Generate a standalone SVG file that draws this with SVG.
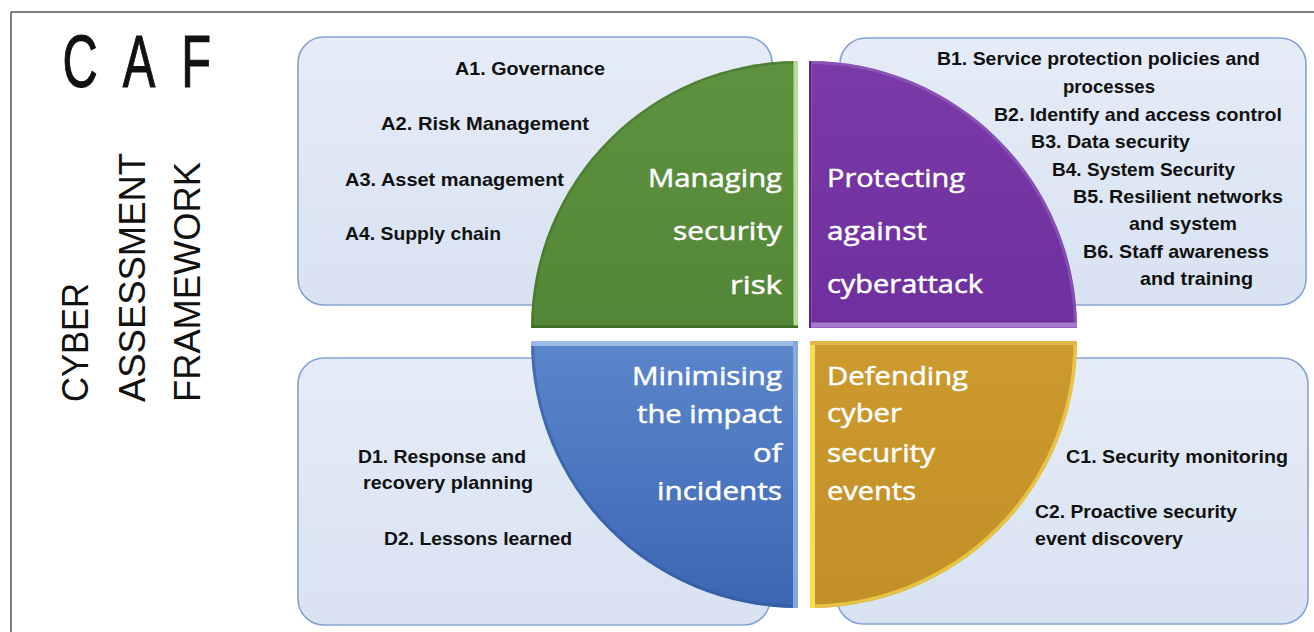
<svg xmlns="http://www.w3.org/2000/svg" width="1314" height="632" viewBox="0 0 1314 632">
  <defs>
    <linearGradient id="boxFill" x1="0" y1="0" x2="0" y2="1">
      <stop offset="0" stop-color="#e5ecf7"/>
      <stop offset="1" stop-color="#d8e2f1"/>
    </linearGradient>
    <linearGradient id="greenFill" x1="0" y1="0" x2="0" y2="1">
      <stop offset="0" stop-color="#5e9240"/>
      <stop offset="1" stop-color="#538636"/>
    </linearGradient>
    <linearGradient id="purpleFill" x1="0" y1="0" x2="0" y2="1">
      <stop offset="0" stop-color="#7a3aa8"/>
      <stop offset="1" stop-color="#6e309e"/>
    </linearGradient>
    <linearGradient id="blueFill" x1="0" y1="0" x2="0" y2="1">
      <stop offset="0" stop-color="#5c86ca"/>
      <stop offset="1" stop-color="#3c66b4"/>
    </linearGradient>
    <linearGradient id="goldFill" x1="0" y1="0" x2="0" y2="1">
      <stop offset="0" stop-color="#cc9a2e"/>
      <stop offset="1" stop-color="#c38f28"/>
    </linearGradient>
    <clipPath id="clipGreen"><path d="M798,328 L531,328 A267,267 0 0 1 798,61 Z"/></clipPath>
    <clipPath id="clipPurple"><path d="M809,328 L809,61 A268,268 0 0 1 1077,328 Z"/></clipPath>
    <clipPath id="clipBlue"><path d="M798,341 L798,608 A267,267 0 0 1 531,341 Z"/></clipPath>
    <clipPath id="clipGold"><path d="M810,341 L1077,341 A267,267 0 0 1 810,608 Z"/></clipPath>
  </defs>
  <style>
    .box { fill: url(#boxFill); stroke: #86a2d2; stroke-width: 1.6; }
    .item { font-family: "Liberation Sans", Arial, sans-serif; font-weight: bold; font-size: 18.5px; fill: #111; }
    .label { font-family: "Open Sans", "Liberation Sans", sans-serif; font-size: 26px; fill: #ffffff; stroke: #ffffff; stroke-width: 0.5; }
    .title { font-family: "Liberation Sans", Arial, sans-serif; fill: #111; }
  </style>

  <rect width="1314" height="632" fill="#ffffff"/>

  <!-- page frame: top and left rules -->
  <g id="frame" stroke="#555" stroke-width="1.5" fill="none">
    <line x1="11" y1="12" x2="1314" y2="12"/>
    <line x1="11" y1="12" x2="11" y2="632"/>
  </g>

  <!-- heading -->
  <g id="title" class="title">
    <text transform="scale(0.65,1)" font-size="75" stroke="#111" stroke-width="1.2">
      <tspan x="96" y="87">C</tspan><tspan x="189" y="87">A</tspan><tspan x="279" y="87">F</tspan>
    </text>
    <text transform="translate(88,402) rotate(-90)" font-size="37" textLength="119" lengthAdjust="spacingAndGlyphs">CYBER</text>
    <text transform="translate(145,402) rotate(-90)" font-size="37" textLength="249" lengthAdjust="spacingAndGlyphs">ASSESSMENT</text>
    <text transform="translate(200,402) rotate(-90)" font-size="37" textLength="240" lengthAdjust="spacingAndGlyphs">FRAMEWORK</text>
  </g>

  <!-- A: managing security risk -->
  <g id="panel-a">
    <rect class="box" x="298" y="37" width="474" height="268" rx="26"/>
    <text class="item" x="455" y="75" textLength="150" lengthAdjust="spacingAndGlyphs">A1. Governance</text>
    <text class="item" x="381" y="130" textLength="208" lengthAdjust="spacingAndGlyphs">A2. Risk Management</text>
    <text class="item" x="345" y="186" textLength="219" lengthAdjust="spacingAndGlyphs">A3. Asset management</text>
    <text class="item" x="345" y="240" textLength="156" lengthAdjust="spacingAndGlyphs">A4. Supply chain</text>
  </g>

  <!-- B: protecting against cyberattack -->
  <g id="panel-b">
    <rect class="box" x="840" y="38" width="466" height="267" rx="26"/>
    <text class="item" x="937" y="65" textLength="323" lengthAdjust="spacingAndGlyphs">B1. Service protection policies and</text>
    <text class="item" x="1063" y="93" textLength="92" lengthAdjust="spacingAndGlyphs">processes</text>
    <text class="item" x="994" y="121" textLength="288" lengthAdjust="spacingAndGlyphs">B2. Identify and access control</text>
    <text class="item" x="1031" y="148" textLength="159" lengthAdjust="spacingAndGlyphs">B3. Data security</text>
    <text class="item" x="1052" y="176" textLength="183" lengthAdjust="spacingAndGlyphs">B4. System Security</text>
    <text class="item" x="1073" y="203" textLength="210" lengthAdjust="spacingAndGlyphs">B5. Resilient networks</text>
    <text class="item" x="1129" y="230" textLength="108" lengthAdjust="spacingAndGlyphs">and system</text>
    <text class="item" x="1083" y="258" textLength="186" lengthAdjust="spacingAndGlyphs">B6. Staff awareness</text>
    <text class="item" x="1140" y="285" textLength="113" lengthAdjust="spacingAndGlyphs">and training</text>
  </g>

  <!-- D: minimising the impact of incidents -->
  <g id="panel-d">
    <rect class="box" x="298" y="358" width="472" height="267" rx="26"/>
    <text class="item" x="358" y="463" textLength="168" lengthAdjust="spacingAndGlyphs">D1. Response and</text>
    <text class="item" x="363" y="489" textLength="170" lengthAdjust="spacingAndGlyphs">recovery planning</text>
    <text class="item" x="384" y="545" textLength="188" lengthAdjust="spacingAndGlyphs">D2.  Lessons learned</text>
  </g>

  <!-- C: defending cyber security events -->
  <g id="panel-c">
    <rect class="box" x="837" y="358" width="471" height="266" rx="26"/>
    <text class="item" x="1066" y="463" textLength="222" lengthAdjust="spacingAndGlyphs">C1. Security monitoring</text>
    <text class="item" x="1035" y="518" textLength="202" lengthAdjust="spacingAndGlyphs">C2. Proactive security</text>
    <text class="item" x="1035" y="545" textLength="148" lengthAdjust="spacingAndGlyphs">event discovery</text>
  </g>

  <!-- quarter-circle objectives with bevelled edges -->
  <g id="quadrant-a">
    <path d="M798,328 L531,328 A267,267 0 0 1 798,61 Z" fill="url(#greenFill)"/>
    <g clip-path="url(#clipGreen)" fill="none">
      <path d="M798,328 L531,328 A267,267 0 0 1 798,61 Z" stroke="#3f6c27" stroke-width="5" opacity="0.45"/>
      <line x1="796" y1="61" x2="796" y2="328" stroke="#b7dd9c" stroke-width="5"/>
      <line x1="531" y1="327" x2="798" y2="327" stroke="#3f6c27" stroke-width="3"/>
    </g>
    <text class="label" x="648" y="187" textLength="134" lengthAdjust="spacingAndGlyphs">Managing</text>
    <text class="label" x="673" y="240" textLength="109" lengthAdjust="spacingAndGlyphs">security</text>
    <text class="label" x="730" y="294" textLength="52" lengthAdjust="spacingAndGlyphs">risk</text>
  </g>

  <g id="quadrant-b">
    <path d="M809,328 L809,61 A268,268 0 0 1 1077,328 Z" fill="url(#purpleFill)"/>
    <g clip-path="url(#clipPurple)" fill="none">
      <path d="M809,328 L809,61 A268,268 0 0 1 1077,328 Z" stroke="#9a6cc4" stroke-width="6" opacity="0.5"/>
      <line x1="809" y1="325" x2="1077" y2="325" stroke="#a57bcb" stroke-width="5"/>
      <line x1="810" y1="61" x2="810" y2="328" stroke="#5a2386" stroke-width="2"/>
    </g>
    <text class="label" x="827" y="187" textLength="138" lengthAdjust="spacingAndGlyphs">Protecting</text>
    <text class="label" x="827" y="240" textLength="100" lengthAdjust="spacingAndGlyphs">against</text>
    <text class="label" x="827" y="293" textLength="156" lengthAdjust="spacingAndGlyphs">cyberattack</text>
  </g>

  <g id="quadrant-d">
    <path d="M798,341 L798,608 A267,267 0 0 1 531,341 Z" fill="url(#blueFill)"/>
    <g clip-path="url(#clipBlue)" fill="none">
      <path d="M798,341 L798,608 A267,267 0 0 1 531,341 Z" stroke="#2f5597" stroke-width="6" opacity="0.5"/>
      <line x1="531" y1="343.5" x2="798" y2="343.5" stroke="#9bbbe6" stroke-width="5"/>
      <line x1="795.5" y1="341" x2="795.5" y2="608" stroke="#86a9dc" stroke-width="5"/>
    </g>
    <text class="label" x="632" y="385" textLength="150" lengthAdjust="spacingAndGlyphs">Minimising</text>
    <text class="label" x="637" y="423" textLength="145" lengthAdjust="spacingAndGlyphs">the impact</text>
    <text class="label" x="753" y="462" textLength="29" lengthAdjust="spacingAndGlyphs">of</text>
    <text class="label" x="657" y="500" textLength="125" lengthAdjust="spacingAndGlyphs">incidents</text>
  </g>

  <g id="quadrant-c">
    <path d="M810,341 L1077,341 A267,267 0 0 1 810,608 Z" fill="url(#goldFill)"/>
    <g clip-path="url(#clipGold)" fill="none">
      <path d="M810,341 L1077,341 A267,267 0 0 1 810,608 Z" stroke="#f2d44c" stroke-width="7" opacity="0.75"/>
      <line x1="812.5" y1="341" x2="812.5" y2="608" stroke="#f7dc55" stroke-width="5"/>
      <line x1="810" y1="343" x2="1077" y2="343" stroke="#e0b84a" stroke-width="4"/>
    </g>
    <text class="label" x="827" y="385" textLength="141" lengthAdjust="spacingAndGlyphs">Defending</text>
    <text class="label" x="827" y="422" textLength="75" lengthAdjust="spacingAndGlyphs">cyber</text>
    <text class="label" x="827" y="462" textLength="108" lengthAdjust="spacingAndGlyphs">security</text>
    <text class="label" x="827" y="500" textLength="89" lengthAdjust="spacingAndGlyphs">events</text>
  </g>
</svg>
